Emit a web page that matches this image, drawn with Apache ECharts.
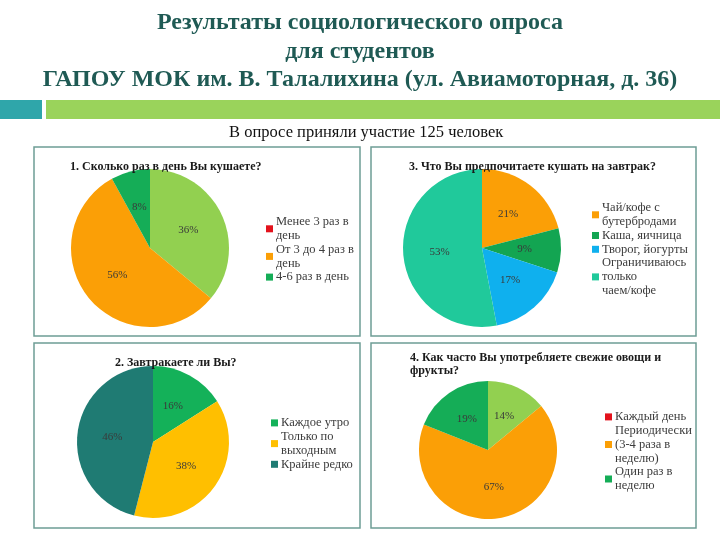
<!DOCTYPE html>
<html>
<head>
<meta charset="utf-8">
<script src="https://cdn.jsdelivr.net/npm/echarts@6/dist/echarts.min.js"></script>
<style>
  html, body { margin: 0; padding: 0; background: #fff; }
  #chart { width: 720px; height: 540px; }
</style>
</head>
<body>
<div id="chart"></div>
<script>
// survey data, one set of arrays per question
const q1Names = ['Менее 3 раз в день', 'От 3 до 4 раз в день', '4-6 раз в день']
const q1Legend = ['Менее 3 раз в\nдень', 'От 3 до 4 раз в\nдень', '4-6 раз в день']
const q1Values = [36, 56, 8]

const q2Names = ['Каждое утро', 'Только по выходным', 'Крайне редко']
const q2Legend = ['Каждое утро', 'Только по\nвыходным', 'Крайне редко']
const q2Values = [16, 38, 46]

const q3Names = ['Чай/кофе с бутербродами', 'Каша, яичница', 'Творог, йогурты', 'Ограничиваюсь только чаем/кофе']
const q3Legend = ['Чай/кофе с\nбутербродами', 'Каша, яичница', 'Творог, йогурты', 'Ограничиваюсь\nтолько\nчаем/кофе']
const q3Values = [21, 9, 17, 53]

const q4Names = ['Каждый день', 'Периодически (3-4 раза в неделю)', 'Один раз в неделю']
const q4Legend = ['Каждый день', 'Периодически\n(3-4 раза в\nнеделю)', 'Один раз в\nнеделю']
const q4Values = [14, 67, 19]

const SERIF = 'Liberation Serif'
const LIGHT_GREEN = '#92d050'
const ORANGE = '#fb9f06'
const GREEN = '#15ad57'
const RED = '#e3121c'

const chart = echarts.init(document.getElementById('chart'))

// slice colors and legend marker colors (the original legend markers
// differ from the slice color for the first item of Q1 and Q4)
const q1Slice = [LIGHT_GREEN, ORANGE, GREEN]
const q1Marker = [RED, ORANGE, GREEN]
const q2Slice = ['#14b159', '#ffbf00', '#1f7b73']
const q3Slice = [ORANGE, '#13a552', '#0fb0ee', '#20c99b']
const q4Slice = [LIGHT_GREEN, ORANGE, GREEN]
const q4Marker = [RED, ORANGE, GREEN]

const legendMap = {}
q1Names.forEach((n, i) => legendMap[n] = q1Legend[i])
q2Names.forEach((n, i) => legendMap[n] = q2Legend[i])
q3Names.forEach((n, i) => legendMap[n] = q3Legend[i])
q4Names.forEach((n, i) => legendMap[n] = q4Legend[i])

function pieData(names, values, colors) {
  return names.map((n, i) => ({ name: n, value: values[i], itemStyle: { color: colors[i] } }))
}

function legendData(names, colors) {
  return names.map((n, i) => ({ name: n, itemStyle: { color: colors[i] } }))
}

function makeLegend(names, colors, left, top, size) {
  return {
    orient: 'vertical',
    left: left,
    top: top,
    data: legendData(names, colors),
    icon: 'rect',
    itemWidth: 7,
    itemHeight: 7,
    itemGap: 0,
    selectedMode: false,
    formatter: n => legendMap[n],
    textStyle: { fontFamily: SERIF, fontSize: size, lineHeight: 13.8, color: '#3c3c3c', padding: [0, 0, 0, -2] }
  }
}

function makePie(names, values, colors, center, radius) {
  return {
    type: 'pie',
    center: center,
    radius: radius,
    startAngle: 90,
    clockwise: true,
    animation: false,
    silent: true,
    data: pieData(names, values, colors),
    label: {
      position: 'inside',
      formatter: '{c}%',
      fontFamily: SERIF,
      fontSize: 11,
      color: '#3a3a3a'
    },
    labelLine: { show: false },
    itemStyle: { borderWidth: 0 }
  }
}

function panelTitle(text, left, top) {
  return {
    text: text,
    left: left,
    top: top,
    textStyle: { fontFamily: SERIF, fontWeight: 'bold', fontSize: 12, lineHeight: 13.5, color: '#1a1a1a' }
  }
}

const panelStyle = { fill: '#fff', stroke: '#6e9d95', lineWidth: 1.5 }

const option = {
  backgroundColor: '#fff',
  title: [
    {
      text: 'Результаты социологического опроса\nдля студентов\nГАПОУ МОК им. В. Талалихина (ул. Авиамоторная, д. 36)',
      left: 'center',
      top: 4,
      textStyle: { fontFamily: SERIF, fontWeight: 'bold', fontSize: 24, lineHeight: 28.5, color: '#1f5a54' }
    },
    {
      text: 'В опросе приняли участие 125 человек',
      left: 224,
      top: 119,
      textStyle: { fontFamily: SERIF, fontWeight: 'normal', fontSize: 16.5, color: '#111' }
    },
    panelTitle('1. Сколько раз в день Вы кушаете?', 65, 155),
    panelTitle('3. Что Вы предпочитаете кушать на завтрак?', 404, 155),
    panelTitle('2. Завтракаете ли Вы?', 110, 351),
    panelTitle('4. Как часто Вы употребляете свежие овощи и\nфрукты?', 405, 346)
  ],
  legend: [
    makeLegend(q1Names, q1Marker, 261, 210, 12.5),
    makeLegend(q3Names, q3Slice, 587, 196, 12.5),
    makeLegend(q2Names, q2Slice, 266, 411, 12.5),
    makeLegend(q4Names, q4Marker, 600, 405, 12.5)
  ],
  graphic: [
    { type: 'rect', z: -10, shape: { x: 0, y: 100, width: 42, height: 19 }, style: { fill: '#2fa6aa' } },
    { type: 'rect', z: -10, shape: { x: 46, y: 100, width: 674, height: 19 }, style: { fill: '#9ad35b' } },
    { type: 'rect', z: -10, shape: { x: 34, y: 147, width: 326, height: 189 }, style: panelStyle },
    { type: 'rect', z: -10, shape: { x: 371, y: 147, width: 325, height: 189 }, style: panelStyle },
    { type: 'rect', z: -10, shape: { x: 34, y: 343, width: 326, height: 185 }, style: panelStyle },
    { type: 'rect', z: -10, shape: { x: 371, y: 343, width: 325, height: 185 }, style: panelStyle }
  ],
  series: [
    makePie(q1Names, q1Values, q1Slice, [150, 248], 79),
    makePie(q3Names, q3Values, q3Slice, [482, 248], 79),
    makePie(q2Names, q2Values, q2Slice, [153, 442], 76),
    makePie(q4Names, q4Values, q4Slice, [488, 450], 69)
  ]
}

chart.setOption(option)
</script>
</body>
</html>
